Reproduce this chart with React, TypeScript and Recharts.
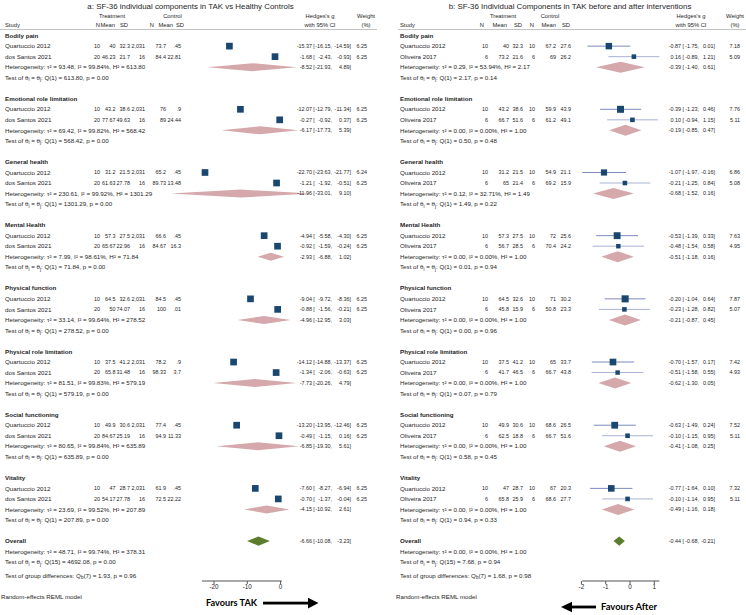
import React from 'react';
import { ScatterChart, Scatter, XAxis, YAxis, ErrorBar, ReferenceArea } from 'recharts';

const FONT = '"Liberation Sans", Arial, Helvetica, sans-serif';
const TXT = '#1e1e1e';
const NAVY = '#1a476f';
const PINK = '#d5a8ac';
const GREEN = '#5b7d2c';
const FS = 6.2; // text lines
const NFS = 5.4; // numeric columns
const HFS = 5.8; // column headers

const CHART_H = 615;
const AXIS_H = 20;
const PLOT_BOTTOM = 581;
const ROW0_PX = 35.6;
const ROW_PX = 10.53;
const pxRow = (px: number) => (px - ROW0_PX) / ROW_PX;
const Y_DOMAIN: [number, number] = [pxRow(0), pxRow(PLOT_BOTTOM)];

// ---------------- shared categories ----------------
const groupNames = [
  'Bodily pain',
  'Emotional role limitation',
  'General health',
  'Mental Health',
  'Physical function',
  'Physical role limitation',
  'Social functioning',
  'Vitality',
];

// ---------------- panel a ----------------
const aTitle = 'a: SF-36 individual components in TAK vs Healthy Controls';
const aStudyNames = ['Quartuccio 2012', 'dos Santos 2021'];
const aStudy1Stats = [
  ['10', '40', '32.3', '2,031', '73.7', '.45'],
  ['10', '43.2', '38.6', '2,031', '76', '.9'],
  ['10', '31.2', '21.5', '2,031', '65.2', '.45'],
  ['10', '57.3', '27.5', '2,031', '66.6', '.45'],
  ['10', '64.5', '32.6', '2,031', '84.5', '.45'],
  ['10', '37.5', '41.2', '2,031', '78.2', '.9'],
  ['10', '49.9', '30.6', '2,031', '77.4', '.45'],
  ['10', '47', '28.7', '2,031', '61.9', '.45'],
];
const aStudy1Effects = [
  [-15.37, -16.15, -14.59, 6.25],
  [-12.07, -12.79, -11.34, 6.25],
  [-22.7, -23.63, -21.77, 6.24],
  [-4.94, -5.58, -4.3, 6.25],
  [-9.04, -9.72, -8.36, 6.25],
  [-14.12, -14.88, -13.37, 6.25],
  [-13.2, -13.95, -12.46, 6.25],
  [-7.6, -8.27, -6.94, 6.25],
];
const aStudy2Stats = [
  ['20', '46.23', '21.7', '16', '84.4', '22.81'],
  ['20', '77.67', '49.63', '16', '89', '24.44'],
  ['20', '61.63', '27.78', '16', '89.73', '13.48'],
  ['20', '65.67', '22.96', '16', '84.67', '16.3'],
  ['20', '50', '74.07', '16', '100', '.01'],
  ['20', '65.8', '31.48', '16', '98.33', '3.7'],
  ['20', '84.67', '25.19', '16', '94.9', '11.33'],
  ['20', '54.17', '27.78', '16', '72.5', '22.22'],
];
const aStudy2Effects = [
  [-1.68, -2.43, -0.93, 6.25],
  [-0.27, -0.92, 0.37, 6.25],
  [-1.21, -1.92, -0.51, 6.25],
  [-0.92, -1.59, -0.24, 6.25],
  [-0.88, -1.56, -0.21, 6.25],
  [-1.34, -2.06, -0.63, 6.25],
  [-0.49, -1.15, 0.16, 6.25],
  [-0.7, -1.37, -0.04, 6.25],
];
const aPooled = [
  [-8.52, -21.93, 4.89],
  [-6.17, -17.73, 5.39],
  [-11.96, -33.01, 9.1],
  [-2.93, -6.88, 1.02],
  [-4.96, -12.95, 3.03],
  [-7.73, -20.26, 4.79],
  [-6.85, -19.3, 5.61],
  [-4.15, -10.92, 2.61],
];
const aHeterogeneity = [
  ['93.48', '99.84%', '613.80'],
  ['69.42', '99.82%', '568.42'],
  ['230.61', '99.92%', '1301.29'],
  ['7.99', '98.61%', '71.84'],
  ['33.14', '99.64%', '278.52'],
  ['81.51', '99.83%', '579.19'],
  ['80.65', '99.84%', '635.89'],
  ['23.69', '99.52%', '207.89'],
];
const aHomogeneity = [
  ['1', '613.80', '0.00'],
  ['1', '568.42', '0.00'],
  ['1', '1301.29', '0.00'],
  ['1', '71.84', '0.00'],
  ['1', '278.52', '0.00'],
  ['1', '579.19', '0.00'],
  ['1', '635.89', '0.00'],
  ['1', '207.89', '0.00'],
];
const aOverall = [-6.66, -10.08, -3.23];
const aOverallHet = ['48.71', '99.74%', '378.31'];
const aOverallQ = ['15', '4692.08', '0.00'];
const aGroupDiff = ['7', '1.93', '0.96'];
const aTicks = [-20, -10, 0];
const aFavours = 'Favours TAK';

// ---------------- panel b ----------------
const bTitle = 'b: SF-36 Individual Components in TAK before and after interventions';
const bStudyNames = ['Quartuccio 2012', 'Oliveira 2017'];
const bStudy1Stats = [
  ['10', '40', '32.3', '10', '67.2', '27.6'],
  ['10', '43.2', '38.6', '10', '59.9', '43.9'],
  ['10', '31.2', '21.5', '10', '54.9', '21.1'],
  ['10', '57.3', '27.5', '10', '72', '25.6'],
  ['10', '64.5', '32.6', '10', '71', '30.2'],
  ['10', '37.5', '41.2', '10', '65', '33.7'],
  ['10', '49.9', '30.6', '10', '68.6', '26.5'],
  ['10', '47', '28.7', '10', '67', '20.3'],
];
const bStudy1Effects = [
  [-0.87, -1.75, 0.01, 7.18],
  [-0.39, -1.23, 0.46, 7.76],
  [-1.07, -1.97, -0.16, 6.86],
  [-0.53, -1.39, 0.33, 7.63],
  [-0.2, -1.04, 0.64, 7.87],
  [-0.7, -1.57, 0.17, 7.42],
  [-0.63, -1.49, 0.24, 7.52],
  [-0.77, -1.64, 0.1, 7.32],
];
const bStudy2Stats = [
  ['6', '73.2', '21.6', '6', '69', '26.2'],
  ['6', '66.7', '51.6', '6', '61.2', '49.1'],
  ['6', '65', '21.4', '6', '69.2', '15.9'],
  ['6', '56.7', '28.5', '6', '70.4', '24.2'],
  ['6', '45.8', '15.9', '6', '50.8', '23.3'],
  ['6', '41.7', '46.5', '6', '66.7', '43.8'],
  ['6', '62.5', '18.8', '6', '66.7', '51.6'],
  ['6', '65.8', '25.9', '6', '68.6', '27.7'],
];
const bStudy2Effects = [
  [0.16, -0.89, 1.21, 5.09],
  [0.1, -0.94, 1.15, 5.11],
  [-0.21, -1.25, 0.84, 5.08],
  [-0.48, -1.54, 0.58, 4.95],
  [-0.23, -1.28, 0.82, 5.07],
  [-0.51, -1.58, 0.55, 4.93],
  [-0.1, -1.15, 0.95, 5.11],
  [-0.1, -1.14, 0.95, 5.11],
];
const bPooled = [
  [-0.39, -1.4, 0.61],
  [-0.19, -0.85, 0.47],
  [-0.68, -1.52, 0.16],
  [-0.51, -1.18, 0.16],
  [-0.21, -0.87, 0.45],
  [-0.62, -1.3, 0.05],
  [-0.41, -1.08, 0.25],
  [-0.49, -1.16, 0.18],
];
const bHeterogeneity = [
  ['0.29', '53.94%', '2.17'],
  ['0.00', '0.00%', '1.00'],
  ['0.12', '32.71%', '1.49'],
  ['0.00', '0.00%', '1.00'],
  ['0.00', '0.00%', '1.00'],
  ['0.00', '0.00%', '1.00'],
  ['0.00', '0.00%', '1.00'],
  ['0.00', '0.00%', '1.00'],
];
const bHomogeneity = [
  ['1', '2.17', '0.14'],
  ['1', '0.50', '0.48'],
  ['1', '1.49', '0.22'],
  ['1', '0.01', '0.94'],
  ['1', '0.00', '0.96'],
  ['1', '0.07', '0.79'],
  ['1', '0.58', '0.45'],
  ['1', '0.94', '0.33'],
];
const bOverall = [-0.44, -0.68, -0.21];
const bOverallHet = ['0.00', '0.00%', '1.00'];
const bOverallQ = ['15', '7.68', '0.94'];
const bGroupDiff = ['7', '1.68', '0.98'];
const bTicks = [-2, -1, 0, 1];
const bFavours = 'Favours After';

// ---------------- assembly ----------------
const studyDomain = (e1: number[][], e2: number[][]): [number, number] => {
  const all = [...e1, ...e2];
  return [Math.min(...all.map((e) => e[1])), Math.max(...all.map((e) => e[2]))];
};

const panelA = {
  title: aTitle, studyNames: aStudyNames,
  stats: [aStudy1Stats, aStudy2Stats], effects: [aStudy1Effects, aStudy2Effects],
  pooled: aPooled, het: aHeterogeneity, homog: aHomogeneity,
  overall: aOverall, overallHet: aOverallHet, overallQ: aOverallQ, groupDiff: aGroupDiff,
  ticks: aTicks, domain: studyDomain(aStudy1Effects, aStudy2Effects),
};
const panelB = {
  title: bTitle, studyNames: bStudyNames,
  stats: [bStudy1Stats, bStudy2Stats], effects: [bStudy1Effects, bStudy2Effects],
  pooled: bPooled, het: bHeterogeneity, homog: bHomogeneity,
  overall: bOverall, overallHet: bOverallHet, overallQ: bOverallQ, groupDiff: bGroupDiff,
  ticks: bTicks, domain: studyDomain(bStudy1Effects, bStudy2Effects),
};

const LAYOUT_A = {
  left: 0, width: 380, zero: 280.6, ppu: 3.33, sq: 1.07, dHalf: 4, oHalf: 4.6,
  ci: [NAVY, NAVY],
  cols: {
    title: 190.5, study: 5,
    vals: [100, 115.5, 130, 145, 166, 181],
    hdrs: [100, 115, 128, 154, 173, 184],
    treat: 112, ctrl: 172.5, hedges: 320, weight: 366,
    es: 312, br: 313.3, lo: 332, hi: 351, w: 367,
    line: [0, 377],
  },
};
const LAYOUT_B = {
  left: 373, width: 373, zero: 257, ppu: 24.3, sq: 0.9, dHalf: 5.5, oHalf: 4.6,
  ci: ['#7d89bd', '#a9b2d4'],
  cols: {
    title: 197, study: 27,
    vals: [115, 136, 150, 162, 183, 198],
    hdrs: [111, 134, 149, 161, 183, 197],
    treat: 130, ctrl: 177, hedges: 318, weight: 362,
    es: 308, br: 309.5, lo: 326, hi: 342, w: 367,
    line: [25, 373],
  },
};

const fmt = (v: number) => v.toFixed(2);

const Txt = ({ x, y, children, anchor = 'start', bold = false, fs = FS, fill = TXT }: any) => (
  <text x={x} y={y} dy="0.35em" fontSize={fs} fontWeight={bold ? 700 : 400} textAnchor={anchor} fill={fill} fontFamily={FONT}>
    {children}
  </text>
);

const EsText = ({ y, eff, c }: any) => (
  <g>
    <Txt x={c.es} y={y} anchor="end" fs={NFS}>{fmt(eff[0])}</Txt>
    <Txt x={c.br} y={y} fs={NFS}>[</Txt>
    <Txt x={c.lo} y={y} anchor="end" fs={NFS}>{fmt(eff[1]) + ','}</Txt>
    <Txt x={c.hi} y={y} anchor="end" fs={NFS}>{fmt(eff[2]) + ']'}</Txt>
  </g>
);

const SUB = 4.6;

const RowShape = (props: any) => {
  const { cy, payload: r, c } = props;
  if (cy == null || !r) return null;
  const y = cy;
  switch (r.kind) {
    case 'title':
      return <Txt x={c.title} y={y} anchor="middle" fs={7.9}>{r.text}</Txt>;
    case 'hdr1':
      return (
        <g>
          <Txt x={c.treat} y={y} anchor="middle" fs={HFS}>Treatment</Txt>
          <Txt x={c.ctrl} y={y} anchor="middle" fs={HFS}>Control</Txt>
          <Txt x={c.hedges} y={y} anchor="middle" fs={HFS}>Hedges's g</Txt>
          <Txt x={c.weight} y={y} anchor="middle" fs={HFS}>Weight</Txt>
        </g>
      );
    case 'hdr2':
      return (
        <g>
          <Txt x={c.study} y={y} fs={HFS}>Study</Txt>
          {['N', 'Mean', 'SD', 'N', 'Mean', 'SD'].map((h, i) => (
            <Txt key={i} x={c.hdrs[i]} y={y} anchor="end" fs={HFS}>{h}</Txt>
          ))}
          <Txt x={c.hedges} y={y} anchor="middle" fs={HFS}>with 95% CI</Txt>
          <Txt x={c.weight} y={y} anchor="middle" fs={HFS}>(%)</Txt>
        </g>
      );
    case 'rule':
      return <line x1={c.line[0]} x2={c.line[1]} y1={y} y2={y} stroke="#9a9a9a" strokeWidth={0.6} />;
    case 'group':
      return <Txt x={c.study} y={y} bold>{r.name}</Txt>;
    case 'study':
      return (
        <g>
          <Txt x={c.study} y={y}>{r.name}</Txt>
          {r.stats.map((s: string, i: number) => (
            <Txt key={i} x={c.vals[i]} y={y} anchor="end" fs={NFS}>{s}</Txt>
          ))}
          <EsText y={y} eff={r.eff} c={c} />
          <Txt x={c.w} y={y} anchor="end" fs={NFS}>{fmt(r.eff[3])}</Txt>
        </g>
      );
    case 'het':
      return (
        <g>
          <Txt x={c.study} y={y}>
            {`Heterogeneity: \u03C4\u00B2 = ${r.het[0]}, I\u00B2 = ${r.het[1]}, H\u00B2 = ${r.het[2]}`}
          </Txt>
          {r.eff ? <EsText y={y} eff={r.eff} c={c} /> : null}
        </g>
      );
    case 'test':
      return (
        <Txt x={c.study} y={y}>
          {'Test of \u03B8'}
          <tspan fontSize={SUB} dy={1.3}>i</tspan>
          <tspan dy={-1.3}>{' = \u03B8'}</tspan>
          <tspan fontSize={SUB} dy={1.3}>j</tspan>
          <tspan dy={-1.3}>{`: Q(${r.q[0]}) = ${r.q[1]}, p = ${r.q[2]}`}</tspan>
        </Txt>
      );
    case 'overall':
      return (
        <g>
          <Txt x={c.study} y={y} bold>Overall</Txt>
          <EsText y={y} eff={r.eff} c={c} />
        </g>
      );
    case 'gdiff':
      return (
        <Txt x={c.study} y={y}>
          {'Test of group differences: Q'}
          <tspan fontSize={SUB} dy={1.3}>b</tspan>
          <tspan dy={-1.3}>{`(${r.q[0]}) = ${r.q[1]}, p = ${r.q[2]}`}</tspan>
        </Txt>
      );
    default:
      return null;
  }
};

const Square = (props: any) => {
  const { cx, cy, payload, k } = props;
  if (cx == null || cy == null) return null;
  const s = k * payload.w;
  return <rect x={cx - s / 2} y={cy - s / 2} width={s} height={s} fill={NAVY} />;
};

const Diamond = (props: any) => {
  const { x, y, width, height, frac, fill } = props;
  if (x == null || y == null) return null;
  const x0 = Math.min(x, x + width);
  const w = Math.abs(width);
  const y0 = Math.min(y, y + height);
  const h = Math.abs(height);
  const cx = x0 + w * frac;
  const my = y0 + h / 2;
  return <polygon points={`${x0},${my} ${cx},${y0} ${x0 + w},${my} ${cx},${y0 + h}`} fill={fill} stroke="none" />;
};

function buildRows(p: any) {
  const mid = (p.domain[0] + p.domain[1]) / 2;
  const rows: any[] = [];
  const add = (y: number, kind: string, extra: any = {}) => rows.push({ x: mid, y, kind, ...extra });
  add(pxRow(6), 'title', { text: p.title });
  add(pxRow(16), 'hdr1');
  add(pxRow(24.5), 'hdr2');
  add(pxRow(29.5), 'rule');
  groupNames.forEach((name, g) => {
    const b = 6 * g;
    add(b, 'group', { name });
    add(b + 1, 'study', { name: p.studyNames[0], stats: p.stats[0][g], eff: p.effects[0][g] });
    add(b + 2, 'study', { name: p.studyNames[1], stats: p.stats[1][g], eff: p.effects[1][g] });
    add(b + 3, 'het', { het: p.het[g], eff: p.pooled[g] });
    add(b + 4, 'test', { q: p.homog[g] });
  });
  add(48, 'overall', { eff: p.overall });
  add(49, 'het', { het: p.overallHet });
  add(50, 'test', { q: p.overallQ });
  add(pxRow(576), 'gdiff', { q: p.groupDiff });
  return rows;
}

function Panel({ p, L }: any) {
  const domain = p.domain;
  const plotL = L.zero + L.ppu * domain[0];
  const plotR = L.zero + L.ppu * domain[1];
  const rows = buildRows(p);
  const pts = (s: number) =>
    p.effects[s].map((e: number[], g: number) => ({
      x: e[0], y: 6 * g + 1 + s, err: [e[0] - e[1], e[2] - e[0]], w: e[3],
    }));
  const diamonds = [
    ...p.pooled.map((e: number[], g: number) => ({ eff: e, y: 6 * g + 3, half: L.dHalf, fill: PINK })),
    { eff: p.overall, y: 48, half: L.oHalf, fill: GREEN },
  ];
  return (
    <div style={{ position: 'absolute', left: L.left, top: 0 }}>
      <ScatterChart
        width={L.width}
        height={CHART_H}
        margin={{ top: 0, right: L.width - plotR, bottom: CHART_H - PLOT_BOTTOM - AXIS_H, left: plotL }}
      >
        <XAxis
          type="number"
          dataKey="x"
          domain={domain}
          ticks={p.ticks}
          interval={0}
          height={AXIS_H}
          tickSize={3}
          tickMargin={1}
          stroke="#555"
          tick={{ fontSize: 6.3, fill: TXT, fontFamily: FONT }}
        />
        <YAxis type="number" dataKey="y" domain={Y_DOMAIN} reversed hide />
        {diamonds.map((d: any, i: number) => (
          <ReferenceArea
            key={i}
            x1={d.eff[1]}
            x2={d.eff[2]}
            y1={d.y - d.half / ROW_PX}
            y2={d.y + d.half / ROW_PX}
            ifOverflow="visible"
            shape={(sp: any) => (
              <Diamond {...sp} frac={(d.eff[0] - d.eff[1]) / (d.eff[2] - d.eff[1])} fill={d.fill} />
            )}
          />
        ))}
        <Scatter data={rows} isAnimationActive={false} shape={(sp: any) => <RowShape {...sp} c={L.cols} />} />
        <Scatter data={pts(0)} isAnimationActive={false} shape={(sp: any) => <Square {...sp} k={L.sq} />}>
          <ErrorBar dataKey="err" direction="x" width={0} stroke={L.ci[0]} strokeWidth={1} />
        </Scatter>
        <Scatter data={pts(1)} isAnimationActive={false} shape={(sp: any) => <Square {...sp} k={L.sq} />}>
          <ErrorBar dataKey="err" direction="x" width={0} stroke={L.ci[1]} strokeWidth={1} />
        </Scatter>
      </ScatterChart>
    </div>
  );
}

const FAV_FONT = 'Lato, "Liberation Sans", Arial, sans-serif';

const Footer = () => (
  <svg width={746} height={615} style={{ position: 'absolute', left: 0, top: 0, pointerEvents: 'none' }}>
    <Txt x={1} y={597}>Random-effects REML model</Txt>
    <Txt x={396} y={597}>Random-effects REML model</Txt>
    <text x={206} y={603} dy="0.35em" fontFamily={FAV_FONT} fontWeight={700} fontSize={9.6} fill="#000" textLength={51} lengthAdjust="spacingAndGlyphs">
      {aFavours}
    </text>
    <rect x={263} y={601.7} width={46} height={2.8} fill="#000" />
    <polygon points="308,597.8 318.5,603.1 308,608.4" fill="#000" />
    <text x={601} y={607} dy="0.35em" fontFamily={FAV_FONT} fontWeight={700} fontSize={9.6} fill="#000" textLength={56} lengthAdjust="spacingAndGlyphs">
      {bFavours}
    </text>
    <rect x={571} y={605.6} width={25} height={2.8} fill="#000" />
    <polygon points="572,601.7 561,607 572,612.3" fill="#000" />
  </svg>
);

export default function App() {
  return (
    <div style={{ position: 'absolute', left: 0, top: 0, width: 746, height: 615, background: '#fff', fontFamily: FONT }}>
      <Panel p={panelA} L={LAYOUT_A} />
      <Panel p={panelB} L={LAYOUT_B} />
      <Footer />
    </div>
  );
}
